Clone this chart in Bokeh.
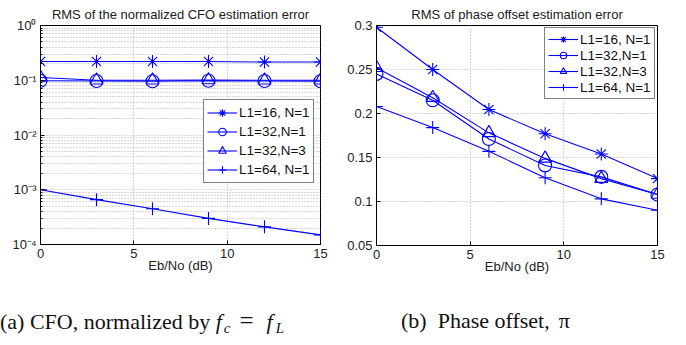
from bokeh.plotting import figure
from bokeh.layouts import row, column
from bokeh.models import FixedTicker, Legend, LegendItem, Range1d, Div
from bokeh.embed import file_html
from bokeh.resources import INLINE

# ---------------- data ----------------
ebno = [0, 3, 6, 9, 12, 15]
series_names = ["L1=16, N=1", "L1=32,N=1", "L1=32,N=3", "L1=64, N=1"]

# (a) RMS of normalized CFO estimation error
cfo_l16_n1 = [0.22, 0.22, 0.22, 0.22, 0.215, 0.215]
cfo_l32_n1 = [0.098, 0.097, 0.096, 0.098, 0.097, 0.096]
cfo_l32_n3 = [0.112, 0.100, 0.100, 0.101, 0.100, 0.100]
cfo_l64_n1 = [1.0e-3, 6.6e-4, 4.5e-4, 3.0e-4, 2.1e-4, 1.5e-4]

# (b) RMS of phase offset estimation error
ph_l16_n1 = [0.298, 0.250, 0.2045, 0.177, 0.154, 0.126]
ph_l32_n1 = [0.245, 0.215, 0.171, 0.141, 0.128, 0.108]
ph_l32_n3 = [0.252, 0.218, 0.178, 0.149, 0.126, 0.108]
ph_l64_n1 = [0.208, 0.184, 0.157, 0.127, 0.103, 0.090]

x_ticks = [0, 5, 10, 15]
cfo_ticks = [1e-4, 1e-3, 1e-2, 1e-1, 1.0]
cfo_tick_labels = ["10\u207b\u2074", "10\u207b\u00b3", "10\u207b\u00b2", "10\u207b\u00b9", "10\u2070"]
ph_ticks = [0.05, 0.1, 0.15, 0.2, 0.25, 0.3]
ph_tick_labels = ["0.05", "0.1", "0.15", "0.2", "0.25", "0.3"]

titles = ["RMS of the normalized CFO estimation error", "RMS of phase offset estimation error"]
x_label = "Eb/No (dB)"

markers = ["asterisk", "circle", "triangle", "cross"]
BLUE = "#0000ff"
FONT = "Liberation Sans"
FIG_H = 273


def style_axis(ax):
    ax.major_tick_in = 4
    ax.major_tick_out = 0
    ax.minor_tick_in = 2
    ax.minor_tick_out = 0
    ax.axis_line_color = "black"
    ax.major_tick_line_color = "black"
    ax.minor_tick_line_color = "black"
    ax.major_label_text_font = FONT
    ax.major_label_text_font_size = "13px"
    ax.major_label_text_color = "#222222"
    ax.axis_label_text_font = FONT
    ax.axis_label_text_font_size = "13px"
    ax.axis_label_text_font_style = "normal"
    ax.axis_label_text_color = "#222222"


def make_fig(title, y_log, y_range, y_ticks, y_minor, y_labels, series,
             legend_loc, legend_row, left, right, bottom):
    kw = dict(y_axis_type="log") if y_log else {}
    p = figure(frame_width=right - left, frame_height=bottom - 24,
               x_range=Range1d(0, 15), y_range=y_range,
               output_backend="svg", toolbar_location=None,
               min_border_left=left, min_border_right=343 - right,
               min_border_top=24, min_border_bottom=FIG_H - bottom, **kw)
    p.title.text = title
    p.title.align = "center"
    p.title.text_font = FONT
    p.title.text_font_size = "13px"
    p.title.text_font_style = "normal"
    p.title.text_color = "#222222"
    p.title.standoff = 8

    p.xaxis.ticker = FixedTicker(ticks=x_ticks)
    p.yaxis.ticker = FixedTicker(ticks=y_ticks, minor_ticks=y_minor)
    p.yaxis.major_label_overrides = dict(zip(y_ticks, y_labels))
    p.xaxis.axis_label = x_label
    style_axis(p.xaxis[0])
    style_axis(p.yaxis[0])
    p.xaxis.major_label_standoff = 4
    p.xaxis.axis_label_standoff = -3
    p.yaxis.major_label_standoff = 4

    p.outline_line_color = "black"
    p.outline_line_width = 1
    p.outline_line_alpha = 1

    for g in (p.xgrid, p.ygrid):
        g.grid_line_color = "#b0b0b0"
        g.grid_line_dash = "1 2"
        g.grid_line_width = 1
    if y_minor:
        p.ygrid.minor_grid_line_color = "#b0b0b0"
        p.ygrid.minor_grid_line_dash = "1 2"

    items = []
    for name, ys, mk in zip(series_names, series, markers):
        ln = p.line(ebno, ys, line_color=BLUE, line_width=1.1)
        sc = p.scatter(ebno, ys, marker=mk, size=13, line_color=BLUE,
                       fill_color=None, line_width=1.1)
        items.append(LegendItem(label=name, renderers=[ln, sc]))
    leg = Legend(items=items, location=legend_loc)
    leg.border_line_color = "black"
    leg.border_line_width = 1
    leg.background_fill_color = "white"
    leg.background_fill_alpha = 1
    leg.label_text_font = FONT
    leg.label_text_font_size = "13.5px"
    leg.label_text_color = "#111111"
    leg.padding = 3
    leg.margin = 0
    leg.spacing = 0
    leg.glyph_height = legend_row
    leg.glyph_width = 30
    leg.label_standoff = 2
    leg.label_height = legend_row
    p.add_layout(leg, "center")
    return p


p1 = make_fig(titles[0], True, Range1d(1e-4, 1.0), cfo_ticks,
              [k * 10.0 ** e for e in range(-4, 0) for k in range(2, 10)],
              cfo_tick_labels,
              [cfo_l16_n1, cfo_l32_n1, cfo_l32_n3, cfo_l64_n1],
              (163, 61), 19, 40, 320, 243)
p2 = make_fig(titles[1], False, Range1d(0.05, 0.3), ph_ticks, [],
              ph_tick_labels,
              [ph_l16_n1, ph_l32_n1, ph_l32_n3, ph_l64_n1],
              (168, 146), 16, 33, 314, 244)

# captions
CAP_STYLE = ("white-space:nowrap; font-family:'Liberation Serif'; font-size:22px; "
             "line-height:25px; color:#111111; margin-top:32px;")
SUB = "font-size:15px; vertical-align:-4px; line-height:0;"
cap_a = Div(text=(f'<div style="{CAP_STYLE} margin-left:0px;">(a) CFO, normalized by '
                  f'<i>f</i><i style="{SUB} margin-left:2px;">c</i>'
                  '<span style="font-size:25px; margin:0 13px 0 9px;">=</span>'
                  f'<i>f</i><i style="{SUB} margin-left:3px;">L</i></div>'),
            width=343, height=345 - FIG_H, margin=0)
cap_b = Div(text=(f'<div style="{CAP_STYLE} margin-left:58px;">(b)&nbsp; Phase offset,'
                  '<span style="margin-left:9px;">\u03c0</span></div>'),
            width=343, height=345 - FIG_H, margin=0)

layout = column(row(p1, p2, spacing=0), row(cap_a, cap_b, spacing=0), spacing=0)
open("out.html", "w").write(file_html(layout, INLINE))
